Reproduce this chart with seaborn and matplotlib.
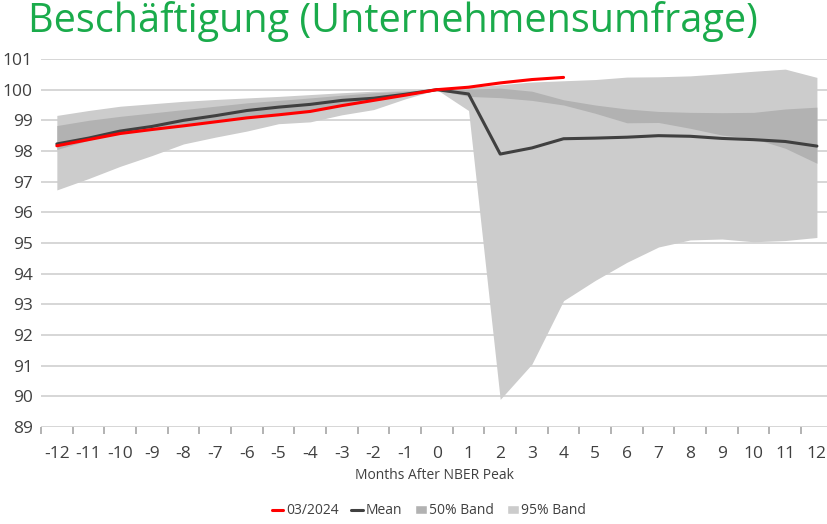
import numpy as np
import pandas as pd
import matplotlib
matplotlib.use("Agg")
import matplotlib.pyplot as plt
import seaborn as sns
from matplotlib.lines import Line2D
from matplotlib.patches import Patch

sns.set_style("white")
plt.rcParams['font.family'] = ['Open Sans', 'DejaVu Sans']
plt.rcParams['axes.unicode_minus'] = False

# months after NBER peak
months = list(range(-12, 13))

# values
mean_vals = [98.23, 98.42, 98.65, 98.80, 99.00, 99.15, 99.32, 99.43, 99.52, 99.65, 99.72, 99.85, 100.0,
             99.86, 97.90, 98.10, 98.40, 98.42, 98.45, 98.50, 98.48, 98.41, 98.37, 98.31, 98.16]
band50_hi = [98.83, 99.00, 99.13, 99.24, 99.35, 99.46, 99.57, 99.65, 99.73, 99.82, 99.90, 99.95, 100.0,
             100.02, 100.05, 99.95, 99.67, 99.50, 99.37, 99.29, 99.26, 99.25, 99.26, 99.37, 99.43]
band50_lo = [98.05, 98.35, 98.59, 98.72, 98.86, 99.00, 99.13, 99.23, 99.33, 99.50, 99.67, 99.85, 100.0,
             99.78, 99.74, 99.65, 99.50, 99.23, 98.92, 98.93, 98.74, 98.52, 98.41, 98.09, 97.60]
band95_hi = [99.16, 99.32, 99.46, 99.54, 99.62, 99.68, 99.73, 99.78, 99.84, 99.90, 99.95, 99.98, 100.0,
             100.07, 100.16, 100.25, 100.29, 100.33, 100.41, 100.42, 100.45, 100.52, 100.60, 100.67, 100.40]
band95_lo = [96.73, 97.10, 97.50, 97.85, 98.23, 98.45, 98.65, 98.89, 98.95, 99.18, 99.35, 99.70, 100.0,
             99.32, 89.90, 91.05, 93.12, 93.78, 94.37, 94.87, 95.10, 95.13, 95.04, 95.08, 95.18]

recent_months = list(range(-12, 5))
recent_vals = [98.17, 98.37, 98.57, 98.70, 98.82, 98.95, 99.08, 99.18, 99.29, 99.48, 99.65, 99.82, 100.0,
               100.08, 100.22, 100.33, 100.40]

df = pd.DataFrame({'month': months, 'mean': mean_vals})
df_recent = pd.DataFrame({'month': recent_months, 'value': recent_vals})

fig = plt.figure(figsize=(8.28, 5.24), dpi=100)
ax = fig.add_axes([41 / 828, 97 / 524, 787 / 828, 368 / 524])

ax.fill_between(months, band95_lo, band95_hi, color='#cccccc', linewidth=0, zorder=2)
ax.fill_between(months, band50_lo, band50_hi, color='#b2b2b2', linewidth=0, zorder=3)
sns.lineplot(data=df, x='month', y='mean', color='#404040', linewidth=2.2, ax=ax, zorder=4)
sns.lineplot(data=df_recent, x='month', y='value', color='#ff0000', linewidth=2.2, ax=ax, zorder=5)

ax.set_xlim(-12.5, 12.35)
ax.set_ylim(89, 101)
ax.set_yticks(range(89, 102))
ax.grid(axis='y', color='#d0d0d0', linewidth=1.2)

# labels sit on the months
ax.set_xticks(months)
ax.set_xticklabels([str(m) for m in months])
ax.tick_params(axis='x', length=0, pad=14, labelsize=12.5, labelcolor='#404040')
ax.tick_params(axis='y', length=0, pad=6, labelsize=12.5, labelcolor='#404040')

# small tick marks between the month categories, just under the axis
bounds = [m - 0.5 for m in months]
ax.plot(bounds, [0] * len(bounds), transform=ax.get_xaxis_transform(), linestyle='none',
        marker=3, markersize=5, markeredgewidth=1.2, color='#a6a6a6', clip_on=False, zorder=6)

for s in ax.spines.values():
    s.set_visible(False)

ax.set_xlabel('Months After NBER Peak', fontsize=10, color='#404040', labelpad=4)
ax.set_ylabel('')

fig.text(28 / 828, 1 - 22 / 524, 'Beschäftigung (Unternehmensumfrage)', fontsize=28.5,
         color='#1aab4b', ha='left', va='center')

handles = [Line2D([0], [0], color='#ff0000', linewidth=2.2),
           Line2D([0], [0], color='#404040', linewidth=2.2),
           Patch(facecolor='#b2b2b2'),
           Patch(facecolor='#cccccc')]
labels = ['03/2024', 'Mean', '50% Band', '95% Band']
fig.legend(handles, labels, loc='center', bbox_to_anchor=(0.518, 1 - 511 / 524), ncol=4,
           frameon=False, fontsize=10, handlelength=0.85, handleheight=0.6, handletextpad=0.2,
           columnspacing=0.9, labelcolor='#404040')

fig.savefig('out.png', dpi=100)
